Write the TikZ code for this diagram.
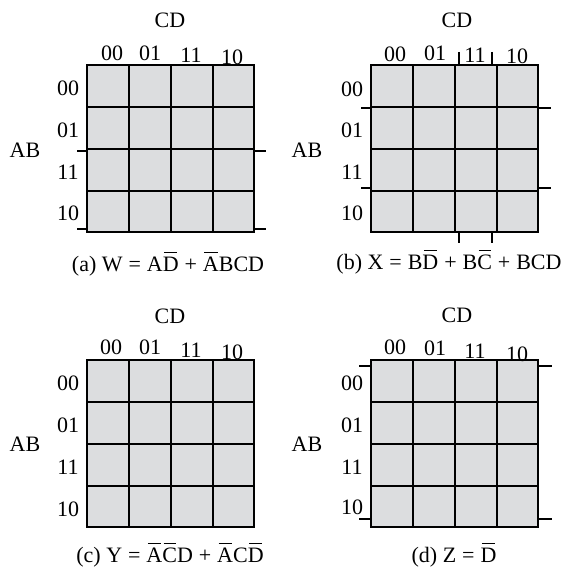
\documentclass[tikz,border=0pt]{standalone}
\usepackage{fontspec}
\setmainfont{Liberation Serif}
\definecolor{cellgray}{RGB}{220,221,223}
\newlength\ovw
\newcommand\ovl[1]{\settowidth\ovw{#1}\leavevmode\rlap{\hspace{0.06em}\rule[0.84em]{\dimexpr\ovw-0.12em\relax}{0.06em}}#1}
\newcommand\eqsp{\hspace{0.27em}}
\newcommand\kmap[2]{%
  \fill[cellgray] (#1,#2) rectangle ++(167,167);
  \foreach \i in {1,2,3} {
    \draw[gridl] (#1+\i*42,#2) -- ++(0,167);
    \draw[gridl] (#1,#2+\i*42) -- ++(167,0);
  }
  \draw[gridl] (#1,#2) rectangle ++(167,167);
}
\begin{document}
\begin{tikzpicture}[x=1pt,y=-1pt,
  lab/.style={font=\fontsize{22}{24}\selectfont, inner sep=0pt},
  gridl/.style={line width=1.8pt, line join=miter},
  tickl/.style={line width=1.2pt}]
\useasboundingbox (0,0) rectangle (569,569);

% ---------- (a) ----------
\kmap{87}{65}
\node[lab] (a-cd) at (170,20) {CD};
\node[lab] (a-c00) at (112,53) {00};
\node[lab] (a-c01) at (150,53) {01};
\node[lab] (a-c11) at (191,55) {11};
\node[lab] (a-c10) at (232,57) {10};
\node[lab] (a-r00) at (68,88) {00};
\node[lab] (a-r01) at (68,130) {01};
\node[lab] (a-r11) at (68,172) {11};
\node[lab] (a-r10) at (68,213) {10};
\node[lab] (a-ab) at (25,150) {AB};
\node[lab] (a-cap) at (168,264) {(a) W\eqsp=\eqsp A\ovl{D}\eqsp+\eqsp\ovl{A}BCD};
\draw[tickl] (77,151) -- (87,151);
\draw[tickl] (254,151) -- (266,151);
\draw[tickl] (77,229) -- (87,229);
\draw[tickl] (254,229) -- (266,229);

% ---------- (b) ----------
\kmap{371}{65}
\node[lab] (b-cd) at (457,20) {CD};
\node[lab] (b-c00) at (395,54) {00};
\node[lab] (b-c01) at (435,53) {01};
\node[lab] (b-c11) at (475,55) {11};
\node[lab] (b-c10) at (517,56) {10};
\node[lab] (b-r00) at (352,89) {00};
\node[lab] (b-r01) at (352,130) {01};
\node[lab] (b-r11) at (352,172) {11};
\node[lab] (b-r10) at (352,213) {10};
\node[lab] (b-ab) at (307,150) {AB};
\node[lab] (b-cap) at (449,262) {(b) X\eqsp=\eqsp B\ovl{D}\eqsp+\eqsp B\ovl{C}\eqsp+\eqsp BCD};
\draw[tickl] (459,52) -- (459,65);
\draw[tickl] (492,52) -- (492,65);
\draw[tickl] (459,232) -- (459,243);
\draw[tickl] (492,232) -- (492,243);
\draw[tickl] (361,108) -- (371,108);
\draw[tickl] (538,108) -- (551,108);
\draw[tickl] (361,188) -- (371,188);
\draw[tickl] (538,188) -- (551,188);

% ---------- (c) ----------
\kmap{87}{360}
\node[lab] (c-cd) at (170,316) {CD};
\node[lab] (c-c00) at (111,347) {00};
\node[lab] (c-c01) at (150,347) {01};
\node[lab] (c-c11) at (191,350) {11};
\node[lab] (c-c10) at (232,352) {10};
\node[lab] (c-r00) at (68,383) {00};
\node[lab] (c-r01) at (68,425) {01};
\node[lab] (c-r11) at (68,467) {11};
\node[lab] (c-r10) at (68,509) {10};
\node[lab] (c-ab) at (25,444) {AB};
\node[lab] (c-cap) at (170,555) {(c) Y\eqsp=\eqsp\ovl{A}\ovl{C}D\eqsp+\eqsp\ovl{A}C\ovl{D}};

% ---------- (d) ----------
\kmap{371}{360}
\node[lab] (d-cd) at (457,315) {CD};
\node[lab] (d-c00) at (395,347) {00};
\node[lab] (d-c01) at (435,348) {01};
\node[lab] (d-c11) at (475,351) {11};
\node[lab] (d-c10) at (517,354) {10};
\node[lab] (d-r00) at (352,383) {00};
\node[lab] (d-r01) at (352,425) {01};
\node[lab] (d-r11) at (352,467) {11};
\node[lab] (d-r10) at (352,507) {10};
\node[lab] (d-ab) at (307,444) {AB};
\node[lab] (d-cap) at (454,555) {(d) Z\eqsp=\eqsp\ovl{D}};
\draw[tickl] (359,366) -- (371,366);
\draw[tickl] (538,366) -- (552,366);
\draw[tickl] (359,519) -- (371,519);
\draw[tickl] (538,519) -- (552,519);
\end{tikzpicture}
\end{document}
